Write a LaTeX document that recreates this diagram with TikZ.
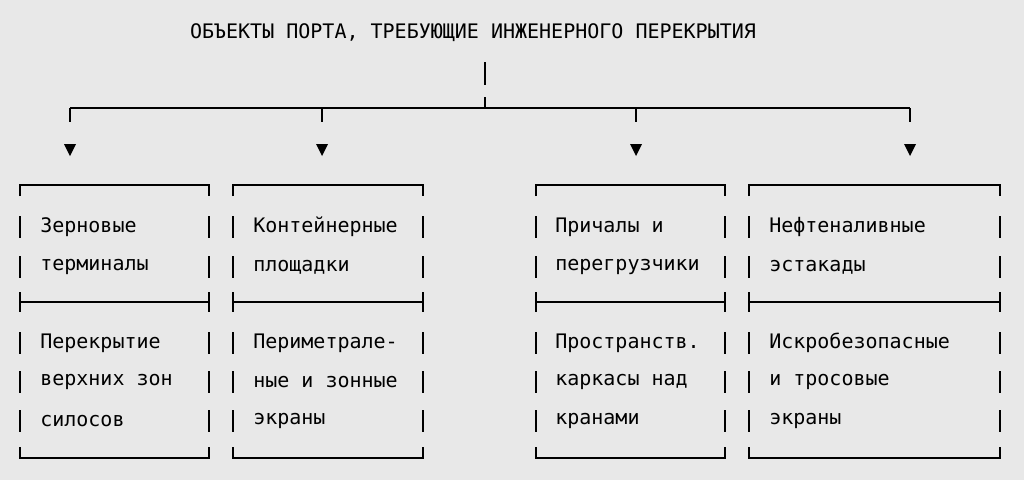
\documentclass[tikz,border=0pt]{standalone}
\usepackage{fontspec}
\setmonofont{DejaVu Sans Mono}
\usetikzlibrary{positioning}
\definecolor{bgGray}{RGB}{232,232,232}
\tikzset{
  txt/.style={anchor=west,inner sep=0pt,font=\ttfamily\fontsize{15}{18}\selectfont},
  rule/.style={line width=1.1pt,black},
}
\begin{document}
\begin{tikzpicture}[x=0.75pt,y=0.75pt,yscale=-1,xscale=1]
    \fill[bgGray] (0,0) rectangle (1024,480);
    \useasboundingbox (0,0) rectangle (1024,480);

    % title and trunk
    \node[txt,anchor=center] (title) at (473,33) {ОБЪЕКТЫ ПОРТА, ТРЕБУЮЩИЕ ИНЖЕНЕРНОГО ПЕРЕКРЫТИЯ};
    \draw[rule] (485,62) -- (485,85);
    \draw[rule] (485,97) -- (485,108);
    \draw[rule] (70,108) -- (910,108);
    \foreach \x/\n in {70/a,322/b,636/c,910/d}{
      \draw[rule] (\x,108) -- (\x,122);
      \coordinate (arr\n) at (\x,150);
      \fill (\x-6,144) -- (\x+6,144) -- (\x,156) -- cycle;
    }

    % boxes
    \foreach \l/\r in {20/209,233/423,536/725,749/1000}{
      \draw[rule] (\l,196) -- (\l,185) -- (\r,185) -- (\r,196);
      \draw[rule] (\l,292) -- (\l,312) (\l,302) -- (\r,302) (\r,292) -- (\r,312);
      \draw[rule] (\l,447) -- (\l,458) -- (\r,458) -- (\r,447);
      \foreach \y in {227,267,343,382,421}{
        \draw[rule] (\l,\y-11) -- (\l,\y+11);
        \draw[rule] (\r,\y-11) -- (\r,\y+11);
      }
    }

    % texts
    \node[txt] (grainA) at (40,227) {Зерновые};
    \node[txt] (grainB) at (40,267) {терминалы};
    \node[txt] (grainC) at (40,343) {Перекрытие};
    \node[txt] (grainD) at (40,382) {верхних зон};
    \node[txt] (grainE) at (40,421) {силосов};

    \node[txt] (contA) at (253,227) {Контейнерные};
    \node[txt] (contB) at (253,267) {площадки};
    \node[txt] (contC) at (253,343) {Периметрале-};
    \node[txt] (contD) at (253,382) {ные и зонные};
    \node[txt] (contE) at (253,421) {экраны};

    \node[txt] (berthA) at (555,227) {Причалы и};
    \node[txt] (berthB) at (555,267) {перегрузчики};
    \node[txt] (berthC) at (555,343) {Пространств.};
    \node[txt] (berthD) at (555,382) {каркасы над};
    \node[txt] (berthE) at (555,421) {кранами};

    \node[txt] (oilA) at (769,227) {Нефтеналивные};
    \node[txt] (oilB) at (769,267) {эстакады};
    \node[txt] (oilC) at (769,343) {Искробезопасные};
    \node[txt] (oilD) at (769,382) {и тросовые};
    \node[txt] (oilE) at (769,421) {экраны};
\end{tikzpicture}
\end{document}
